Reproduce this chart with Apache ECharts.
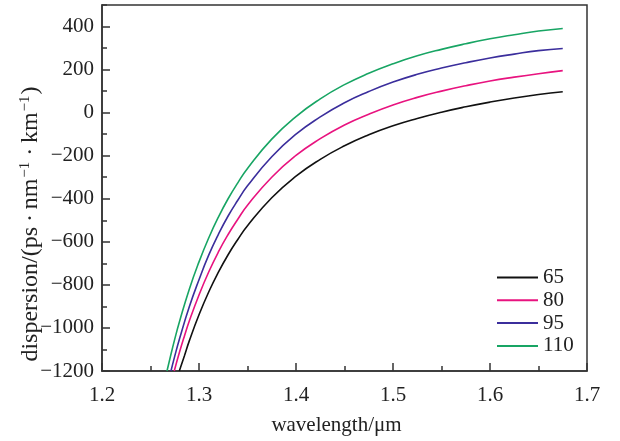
<!DOCTYPE html>
<html>
<head>
<meta charset="utf-8">
<script src="https://cdn.jsdelivr.net/npm/echarts/dist/echarts.min.js"></script>
<style>
html,body{margin:0;padding:0;background:#fff;}
#chart{width:620px;height:441px;}
</style>
</head>
<body>
<div id="chart"></div>
<script>
// Series names (legend)
const seriesNames = ['65', '80', '95', '110'];
const seriesColors = ['#111111', '#e8137f', '#3b2e9c', '#18a564'];

// wavelength (µm) / dispersion (ps·nm^-1·km^-1)
const wl65 = [1.2797, 1.285, 1.29, 1.30, 1.31, 1.32, 1.33, 1.34, 1.35, 1.375, 1.40, 1.425, 1.45, 1.475, 1.50, 1.525, 1.55, 1.575, 1.60, 1.625, 1.65, 1.675];
const d65  = [-1200, -1129, -1060, -939, -833, -741, -660, -589, -525, -395, -295, -217, -154, -103, -61, -27, 2, 27, 49, 68, 84, 97];

const wl80 = [1.2745, 1.28, 1.285, 1.29, 1.30, 1.31, 1.32, 1.33, 1.34, 1.35, 1.375, 1.40, 1.425, 1.45, 1.475, 1.50, 1.525, 1.55, 1.575, 1.60, 1.625, 1.65, 1.675];
const d80  = [-1200, -1111, -1037, -968, -847, -740, -647, -566, -495, -430, -300, -199, -121, -57, -7, 36, 71, 100, 125, 147, 165, 181, 195];

const wl95 = [1.2711, 1.275, 1.28, 1.29, 1.30, 1.31, 1.32, 1.33, 1.34, 1.35, 1.375, 1.40, 1.425, 1.45, 1.475, 1.50, 1.525, 1.55, 1.575, 1.60, 1.625, 1.65, 1.675];
const d95  = [-1200, -1131, -1049, -902, -776, -662, -565, -480, -407, -340, -205, -100, -20, 46, 98, 142, 178, 207, 232, 254, 272, 288, 298];

const wl110 = [1.267, 1.27, 1.275, 1.28, 1.29, 1.30, 1.31, 1.32, 1.33, 1.34, 1.35, 1.375, 1.40, 1.425, 1.45, 1.475, 1.50, 1.525, 1.55, 1.575, 1.60, 1.625, 1.65, 1.675];
const d110  = [-1200, -1143, -1052, -969, -820, -693, -582, -485, -400, -326, -259, -123, -18, 64, 130, 183, 227, 264, 294, 320, 343, 362, 379, 391];

// Axis ticks
const xTicks = [1.2, 1.3, 1.4, 1.5, 1.6, 1.7];
const yTicks = [-1200, -1000, -800, -600, -400, -200, 0, 200, 400];

const xName = 'wavelength/μm';
const yNameParts = ['dispersion/(ps\u2009·\u2009nm', '−1', '\u2009·\u2009km', '−1', ')'];

const wls = [wl65, wl80, wl95, wl110];
const ds = [d65, d80, d95, d110];

const FONT = '"Liberation Serif", "Times New Roman", serif';
const AX = '#333333';
const TXT = '#222222';

const chart = echarts.init(document.getElementById('chart'), null, {renderer: 'canvas'});

const series = seriesNames.map((n, i) => ({
  name: n,
  type: 'line',
  smooth: 0.5,
  symbol: 'none',
  data: wls[i].map((w, k) => [w, ds[i][k]]),
  lineStyle: {color: seriesColors[i], width: 1.6},
  itemStyle: {color: seriesColors[i]},
  z: 3
}));

const option = {
  animation: false,
  backgroundColor: '#ffffff',
  grid: {left: 102, right: 33, top: 5, bottom: 68, show: true, borderColor: AX, borderWidth: 1.5, backgroundColor: 'transparent'},
  legend: {
    orient: 'vertical',
    left: 496,
    top: 267,
    padding: 0,
    itemWidth: 41,
    itemHeight: 14,
    itemGap: 1.8,
    data: seriesNames,
    itemStyle: {opacity: 0},
    textStyle: {fontFamily: FONT, fontSize: 21, color: TXT, lineHeight: 20}
  },
  xAxis: {
    type: 'value',
    min: xTicks[0],
    max: xTicks[xTicks.length - 1],
    interval: 0.1,
    name: xName,
    nameLocation: 'middle',
    nameGap: 44,
    nameTextStyle: {fontFamily: FONT, fontSize: 21, color: TXT, padding: [0, 16, 0, 0]},
    axisLine: {show: true, onZero: false, lineStyle: {color: AX, width: 1.5}},
    axisTick: {show: true, inside: true, length: 8, lineStyle: {color: AX, width: 1.5}},
    minorTick: {show: true, splitNumber: 2, length: 5, lineStyle: {color: AX, width: 1.5}},
    splitLine: {show: false},
    minorSplitLine: {show: false},
    axisLabel: {fontFamily: FONT, fontSize: 21, color: TXT, margin: 14,
      formatter: v => v.toFixed(1)}
  },
  yAxis: [{
    type: 'value',
    min: yTicks[0],
    max: 500,
    interval: 200,
    axisLine: {show: true, onZero: false, lineStyle: {color: AX, width: 1.5}},
    axisTick: {show: true, inside: true, length: 8, lineStyle: {color: AX, width: 1.5}},
    splitLine: {show: false},
    axisLabel: {fontFamily: FONT, fontSize: 21, color: TXT, margin: 8, showMaxLabel: false,
      formatter: v => (v < 0 ? '−' + Math.abs(v) : String(v))}
  }, {
    type: 'value',
    position: 'left',
    min: yTicks[0],
    max: 500,
    interval: 100,
    axisLine: {show: false, onZero: false},
    axisTick: {show: true, inside: true, length: 5, lineStyle: {color: AX, width: 1.5}},
    splitLine: {show: false},
    axisLabel: {show: false}
  }],
  graphic: [{
    type: 'text',
    x: 31,
    y: 224,
    rotation: Math.PI / 2,
    style: {
      text: yNameParts[0] + '{s|' + yNameParts[1] + '}' + yNameParts[2] + '{s|' + yNameParts[3] + '}' + yNameParts[4],
      font: '24px ' + FONT,
      fill: TXT,
      align: 'center',
      verticalAlign: 'middle',
      rich: {s: {fontSize: 15, fontFamily: FONT, fill: TXT, verticalAlign: 'top', padding: [0, 1, 12, 1]}}
    }
  }],
  series: series
};
chart.setOption(option);
</script>
</body>
</html>
